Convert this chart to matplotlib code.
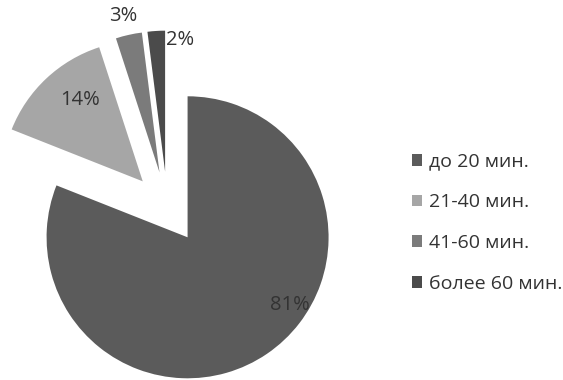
import matplotlib
matplotlib.use("Agg")
import matplotlib.pyplot as plt

# travel time shares
categories = ["до 20 мин.", "21-40 мин.", "41-60 мин.", "более 60 мин."]
shares = [81, 14, 3, 2]
pct_labels = ["81%", "14%", "3%", "2%"]
colors = ["#5b5b5b", "#a6a6a6", "#7b7b7b", "#4b4b4b"]

plt.rcParams["font.family"] = ["Open Sans", "DejaVu Sans"]

fig = plt.figure(figsize=(5.63, 3.80), dpi=100)
ax = fig.add_axes([0, 0, 1, 1])

wedges, _ = ax.pie(shares, colors=colors, startangle=90, counterclock=False,
                   explode=[0.255] * 4, radius=1.0)

ax.set_xlim(-1.187, 2.806)
ax.set_ylim(-1.223, 1.472)
ax.set_aspect("equal")
ax.axis("off")

# percentage labels
label_pos = [(0.87, -0.69), (-0.62, 0.76), (-0.31, 1.36), (0.09, 1.19)]
for (x, y), txt in zip(label_pos, pct_labels):
    ax.text(x, y, txt, ha="center", va="center", fontsize=14.5, color="#333333")

fig.legend(wedges, categories, loc="center left", bbox_to_anchor=(0.70, 0.414),
           frameon=False, fontsize=14, handlelength=0.55, handleheight=0.55,
           handletextpad=0.35, labelspacing=1.17, labelcolor="#333333")

fig.savefig("out.png", dpi=100)
